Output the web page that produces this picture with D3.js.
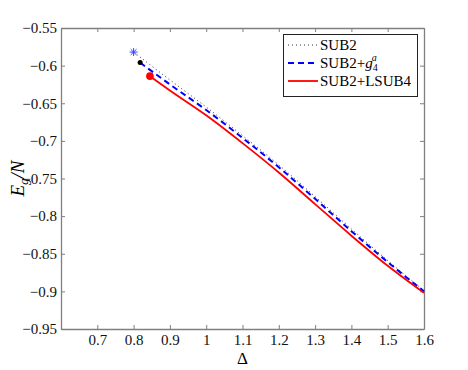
<!DOCTYPE html>
<html>
<head>
<meta charset="utf-8">
<script src="https://cdn.jsdelivr.net/npm/d3@7"></script>
<style>
  body { margin: 0; background: #fff; }
  svg text { font-family: "Liberation Serif", "Times New Roman", "DejaVu Serif", serif; }
</style>
</head>
<body>
<svg id="chart" width="468" height="370"></svg>
<script>
// data
var sub2X = [0.8, 0.9, 1.0, 1.1, 1.2, 1.3, 1.4, 1.5, 1.6];
var sub2Y = [-0.582, -0.619, -0.655, -0.693, -0.732, -0.774, -0.817, -0.859, -0.899];
var g4X = [0.818, 0.9, 1.0, 1.1, 1.2, 1.3, 1.4, 1.5, 1.6];
var g4Y = [-0.596, -0.625, -0.659, -0.696, -0.735, -0.777, -0.820, -0.861, -0.900];
var lsubX = [0.845, 0.9, 1.0, 1.1, 1.2, 1.3, 1.4, 1.5, 1.6];
var lsubY = [-0.614, -0.633, -0.666, -0.703, -0.742, -0.784, -0.826, -0.866, -0.902];
var xTicks = [0.7, 0.8, 0.9, 1.0, 1.1, 1.2, 1.3, 1.4, 1.5, 1.6];
var yTicks = [-0.55, -0.6, -0.65, -0.7, -0.75, -0.8, -0.85, -0.9, -0.95];

(function() {
var mLeft = 61, mRight = 424, mTop = 28, mBottom = 329;
var serif = "'Liberation Serif', 'Times New Roman', serif";
var svg = d3.select("#chart");

var x = d3.scaleLinear().domain([0.6, 1.6]).range([mLeft, mRight]);
var y = d3.scaleLinear().domain([-0.95, -0.55]).range([mBottom, mTop]);

var axisColor = "#7f7f7f";
function fmt(v) { return String(+v.toFixed(2)).replace("-", "\u2212"); }

// axes with inward ticks, box on
var gx = svg.append("g").attr("transform", "translate(0," + mBottom + ")")
  .call(d3.axisBottom(x).tickValues(xTicks).tickSizeInner(-4).tickSizeOuter(0).tickPadding(5)
    .tickFormat(function(d){ return fmt(d); }));
var gxt = svg.append("g").attr("transform", "translate(0," + mTop + ")")
  .call(d3.axisTop(x).tickValues(xTicks).tickSizeInner(-4).tickSizeOuter(0).tickFormat(""));
var gy = svg.append("g").attr("transform", "translate(" + mLeft + ",0)")
  .call(d3.axisLeft(y).tickValues(yTicks).tickSizeInner(-4).tickSizeOuter(0).tickPadding(4)
    .tickFormat(function(d){ return fmt(d); }));
var gyr = svg.append("g").attr("transform", "translate(" + mRight + ",0)")
  .call(d3.axisRight(y).tickValues(yTicks).tickSizeInner(-4).tickSizeOuter(0).tickFormat(""));

[gx, gxt, gy, gyr].forEach(function(g){
  g.attr("font-family", serif);
  g.select(".domain").attr("stroke", axisColor).attr("stroke-width", 1.3);
  g.selectAll(".tick line").attr("stroke", axisColor);
  g.selectAll(".tick text").attr("fill", "#111").style("font-size", "15px")
    .style("font-family", serif);
});

// curves
var line = d3.line().x(function(d){ return x(d[0]); }).y(function(d){ return y(d[1]); })
  .curve(d3.curveMonotoneX);
function pairs(xs, ys) { return xs.map(function(v, i){ return [v, ys[i]]; }); }

svg.append("path").datum(pairs(sub2X, sub2Y)).attr("d", line)
  .attr("fill", "none").attr("stroke", "#333").attr("stroke-width", 1)
  .attr("stroke-dasharray", "1,3");
svg.append("path").datum(pairs(g4X, g4Y)).attr("d", line)
  .attr("fill", "none").attr("stroke", "#0000ff").attr("stroke-width", 2)
  .attr("stroke-dasharray", "6,4");
svg.append("path").datum(pairs(lsubX, lsubY)).attr("d", line)
  .attr("fill", "none").attr("stroke", "#ff0000").attr("stroke-width", 1.8);

// end markers
var sx = x(sub2X[0]), sy = y(sub2Y[0]);
var star = svg.append("g").attr("stroke", "#3344ff").attr("stroke-width", 1);
[[0, 4], [4, 0], [2.9, 2.9], [2.9, -2.9]].forEach(function(d){
  star.append("line").attr("x1", sx - d[0]).attr("y1", sy - d[1])
    .attr("x2", sx + d[0]).attr("y2", sy + d[1]);
});
svg.append("circle").attr("cx", x(g4X[0])).attr("cy", y(g4Y[0])).attr("r", 2.5).attr("fill", "#000");
svg.append("circle").attr("cx", x(lsubX[0])).attr("cy", y(lsubY[0])).attr("r", 3.8).attr("fill", "#ff0000");

// axis labels
svg.append("text").attr("x", (mLeft + mRight) / 2).attr("y", 364).attr("text-anchor", "middle")
  .style("font-family", serif).style("font-size", "17px").text("\u0394");
var yl = svg.append("text").attr("transform", "translate(24," + ((mTop + mBottom) / 2) + ") rotate(-90)")
  .attr("text-anchor", "middle").style("font-family", serif)
  .style("font-size", "19px").style("font-style", "italic");
yl.append("tspan").text("E");
yl.append("tspan").attr("dy", 4).style("font-size", "13px").text("g");
yl.append("tspan").attr("dy", -4).text("/N");

// legend
var lg = svg.append("g").attr("font-family", serif);
lg.append("rect").attr("x", 283.5).attr("y", 34.5).attr("width", 134).attr("height", 62)
  .attr("fill", "#fff").attr("stroke", "#222").attr("stroke-width", 1);
var entries = [
  { label: "SUB2", color: "#333", dash: "1,3", w: 1 },
  { label: "SUB2+", color: "#0000ff", dash: "6,4", w: 2, sup: true },
  { label: "SUB2+LSUB4", color: "#ff0000", dash: null, w: 1.8 }
];
entries.forEach(function(e, i){
  var ly = 45 + i * 18;
  lg.append("line").attr("x1", 288).attr("x2", 318).attr("y1", ly).attr("y2", ly)
    .attr("stroke", e.color).attr("stroke-width", e.w).attr("stroke-dasharray", e.dash);
  var t = lg.append("text").attr("x", 320).attr("y", ly + 5)
    .style("font-family", serif).style("font-size", "15px").text(e.label);
  if (e.sup) {
    t.append("tspan").style("font-style", "italic").text("g");
    t.append("tspan").attr("dy", 3).style("font-size", "10px").text("4");
    t.append("tspan").attr("dx", -6).attr("dy", -10).style("font-size", "10px").style("font-style", "italic").text("a");
  }
});
})();
</script>
</body>
</html>
